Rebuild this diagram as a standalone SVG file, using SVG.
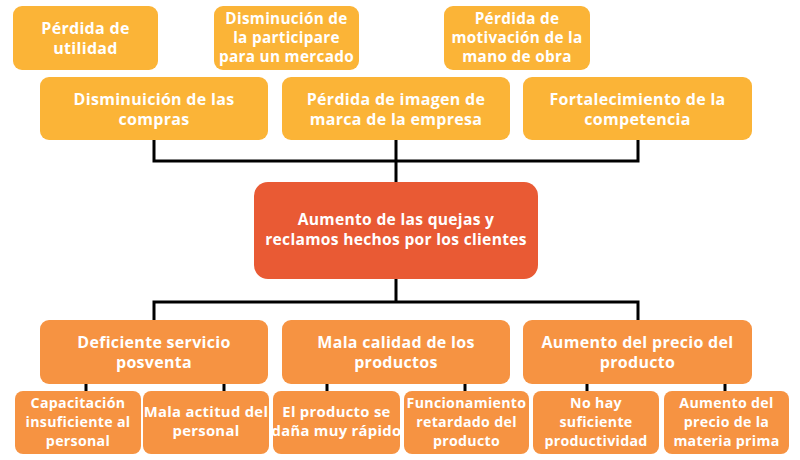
<svg xmlns="http://www.w3.org/2000/svg" width="800" height="460" viewBox="0 0 800 460">
<style>
.y{fill:#FBB437}
.o{fill:#F69342}
.c{fill:#E95A34}
text{font-family:"Open Sans","Liberation Sans",sans-serif;font-weight:700;fill:#fff;text-anchor:middle;letter-spacing:0.3px}
.t16{font-size:16px}
.tc{font-size:15.6px}
.ts{font-size:15.3px}
.tb{font-size:14.2px}
.tm{font-size:14.8px}
.ln{stroke:#000;stroke-width:3;fill:none}
</style>
<rect width="800" height="460" fill="#fff"/>
<g id="connectors">
<path class="ln" d="M154 140V161H638V140M396 140V182"/>
<path class="ln" d="M396 279V302M154 320V302H638V320"/>
<path class="ln" d="M86 384V391M224 384V391M327 384V391M465 384V391M587 384V391M725 384V391"/>
</g>
<g id="n_perdida_utilidad"><rect class="y" x="13" y="6" width="145" height="64" rx="9"/><text class="t16"><tspan x="85.5" y="34">Pérdida de</tspan><tspan x="85.5" y="54">utilidad</tspan></text></g>
<g id="n_disminucion_participare"><rect class="y" x="214" y="6" width="145" height="64" rx="9"/><text class="ts"><tspan x="286.5" y="24">Disminución de</tspan><tspan x="286.5" y="43">la participare</tspan><tspan x="286.5" y="62">para un mercado</tspan></text></g>
<g id="n_perdida_motivacion"><rect class="y" x="444" y="6" width="146" height="64" rx="9"/><text class="ts"><tspan x="517" y="24">Pérdida de</tspan><tspan x="517" y="43">motivación de la</tspan><tspan x="517" y="62">mano de obra</tspan></text></g>
<g id="n_disminuicion_compras"><rect class="y" x="40" y="77" width="228" height="63" rx="9"/><text class="t16"><tspan x="154" y="105">Disminuición de las</tspan><tspan x="154" y="125">compras</tspan></text></g>
<g id="n_perdida_imagen"><rect class="y" x="282" y="77" width="228" height="63" rx="9"/><text class="t16"><tspan x="396" y="105">Pérdida de imagen de</tspan><tspan x="396" y="125">marca de la empresa</tspan></text></g>
<g id="n_fortalecimiento"><rect class="y" x="523" y="77" width="229" height="63" rx="9"/><text class="t16"><tspan x="637.5" y="105">Fortalecimiento de la</tspan><tspan x="637.5" y="125">competencia</tspan></text></g>
<g id="n_central"><rect class="c" x="254" y="182" width="284" height="97" rx="14"/><text class="tc"><tspan x="396" y="225">Aumento de las quejas y</tspan><tspan x="396" y="245">reclamos hechos por los clientes</tspan></text></g>
<g id="n_deficiente_servicio"><rect class="o" x="40" y="320" width="228" height="64" rx="9"/><text class="t16"><tspan x="154" y="348">Deficiente servicio</tspan><tspan x="154" y="368">posventa</tspan></text></g>
<g id="n_mala_calidad"><rect class="o" x="282" y="320" width="228" height="64" rx="9"/><text class="t16"><tspan x="396" y="348">Mala calidad de los</tspan><tspan x="396" y="368">productos</tspan></text></g>
<g id="n_aumento_precio"><rect class="o" x="523" y="320" width="229" height="64" rx="9"/><text class="t16"><tspan x="637.5" y="348">Aumento del precio del</tspan><tspan x="637.5" y="368">producto</tspan></text></g>
<g id="n_capacitacion"><rect class="o" x="15" y="391" width="126" height="63" rx="8"/><text class="tb"><tspan x="78" y="408">Capacitación</tspan><tspan x="78" y="427">insuficiente al</tspan><tspan x="78" y="446">personal</tspan></text></g>
<g id="n_mala_actitud"><rect class="o" x="143" y="391" width="126" height="63" rx="8"/><text class="tm"><tspan x="206" y="417">Mala actitud del</tspan><tspan x="206" y="436">personal</tspan></text></g>
<g id="n_dana_rapido"><rect class="o" x="273" y="391" width="127" height="63" rx="8"/><text class="tm"><tspan x="336.5" y="417">El producto se</tspan><tspan x="336.5" y="436">daña muy rápido</tspan></text></g>
<g id="n_funcionamiento"><rect class="o" x="404" y="391" width="125" height="63" rx="8"/><text class="tb"><tspan x="466.5" y="408">Funcionamiento</tspan><tspan x="466.5" y="427">retardado del</tspan><tspan x="466.5" y="446">producto</tspan></text></g>
<g id="n_no_hay"><rect class="o" x="533" y="391" width="126" height="63" rx="8"/><text class="tb"><tspan x="596" y="408">No hay</tspan><tspan x="596" y="427">suficiente</tspan><tspan x="596" y="446">productividad</tspan></text></g>
<g id="n_materia_prima"><rect class="o" x="664" y="391" width="125" height="63" rx="8"/><text class="tb"><tspan x="726.5" y="408">Aumento del</tspan><tspan x="726.5" y="427">precio de la</tspan><tspan x="726.5" y="446">materia prima</tspan></text></g>
</svg>
